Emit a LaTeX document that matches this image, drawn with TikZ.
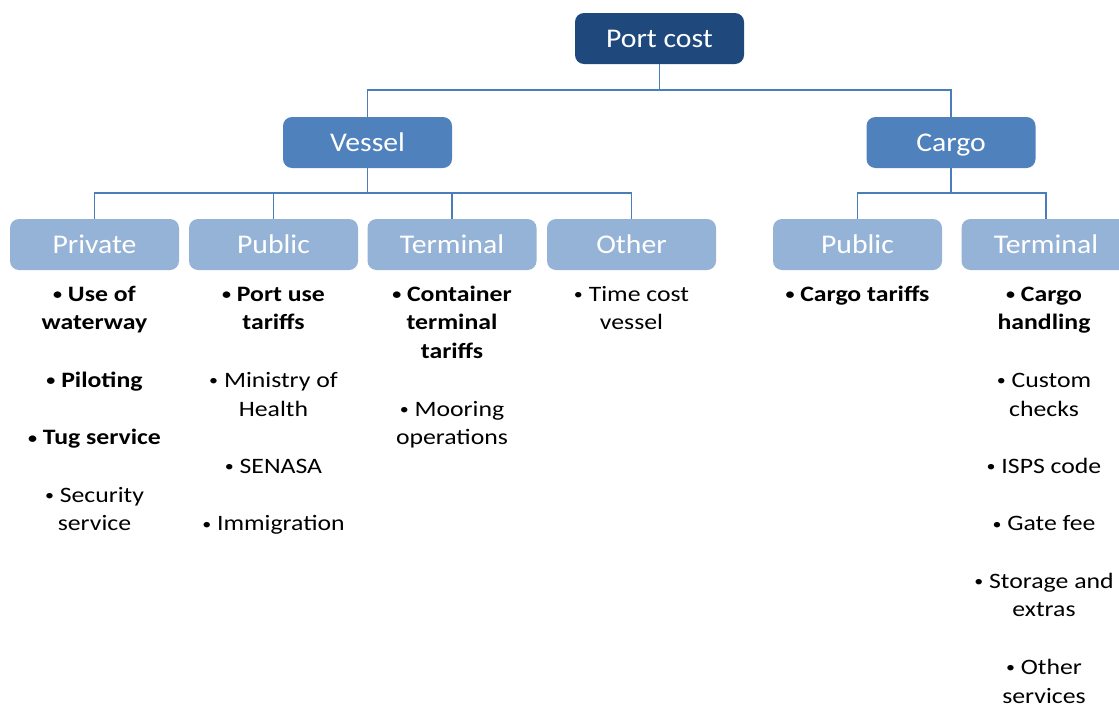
\documentclass[tikz,border=0pt]{standalone}
\usepackage{fontspec}
\setmainfont{Carlito}
\newfontfamily\itemfont[FakeStretch=1.17]{Carlito}
\newfontfamily\titlefont[FakeStretch=1.1]{Carlito}
\newcommand{\bul}{\rule{0pt}{18pt}\raisebox{1.5pt}{\scalebox{0.7}{•}}}
\definecolor{cDark}{HTML}{1F497D}
\definecolor{cMid}{HTML}{4F81BD}
\definecolor{cLight}{HTML}{95B3D7}
\definecolor{cLine}{HTML}{4A7EBB}
\begin{document}
\begin{tikzpicture}[x=1pt,y=-1pt,
  box/.style={rounded corners=9pt, minimum width=169pt, minimum height=51pt, inner sep=0pt,
    text height=21pt, text depth=4pt,
    text=white, font=\titlefont\fontsize{27}{30}\selectfont},
  lvA/.style={box, fill=cDark},
  lvB/.style={box, fill=cMid},
  lvC/.style={box, fill=cLight},
  conn/.style={draw=cLine, line width=1.3pt},
  item/.style={anchor=north, inner sep=0pt, align=center, text=black,
    font=\itemfont\fontsize{22}{28.7}\selectfont},
  bitem/.style={item, font=\itemfont\fontsize{22}{28.7}\selectfont\bfseries}]
\clip (0,0) rectangle (1119,707);
\fill[white] (0,0) rectangle (1119,707);
% boxes
\node[lvA] (port) at (659.5,38.5) {Port cost};
\node[lvB] (vessel) at (367.5,142.5) {Vessel};
\node[lvB] (cargo) at (951,142.5) {Cargo};
\node[lvC] (priv) at (94.5,244.5) {Private};
\node[lvC] (pub) at (273.5,244.5) {Public};
\node[lvC] (term) at (452,244.5) {Terminal};
\node[lvC] (oth) at (631.5,244.5) {Other};
\node[lvC] (cpub) at (857.5,244.5) {Public};
\node[lvC] (cterm) at (1046,244.5) {Terminal};
% connectors
\coordinate (j0) at (659.5,90);
\coordinate (j1) at (367.5,193);
\coordinate (j2) at (951,193);
\draw[conn] (port.south) -- (j0) -| (vessel.north);
\draw[conn] (j0) -| (cargo.north);
\draw[conn] (vessel.south) -- (j1) -| (priv.north);
\draw[conn] (j1) -| (pub.north);
\draw[conn] (j1) -| (term.north);
\draw[conn] (j1) -| (oth.north);
\draw[conn] (cargo.south) -- (j2) -| (cpub.north);
\draw[conn] (j2) -| (cterm.north);
% Private
\node[bitem] (p1) at (94.5,283) {\bul{} Use of\\waterway};
\node[bitem] (p2) at (94.5,369.1) {\bul{} Piloting};
\node[bitem] (p3) at (94.5,426.5) {\bul{} Tug service};
\node[item] (p4) at (94.5,483.9) {\bul{} Security\\service};
% Public
\node[bitem] (u1) at (273.5,283) {\bul{} Port use\\tariffs};
\node[item] (u2) at (273.5,369.1) {\bul{} Ministry of\\Health};
\node[item] (u3) at (273.5,455.2) {\bul{} SENASA};
\node[item] (u4) at (273.5,512.6) {\bul{} Immigration};
% Terminal
\node[bitem] (t1) at (452,283) {\bul{} Container\\terminal\\tariffs};
\node[item] (t2) at (452,397.8) {\bul{} Mooring\\operations};
% Other
\node[item] (o1) at (631.5,283) {\bul{} Time cost\\vessel};
% Cargo public
\node[bitem] (c1) at (857.5,283) {\bul{} Cargo tariffs};
% Cargo terminal
\node[bitem] (k1) at (1044,283) {\bul{} Cargo\\handling};
\node[item] (k2) at (1044,369.1) {\bul{} Custom\\checks};
\node[item] (k3) at (1044,455.2) {\bul{} ISPS code};
\node[item] (k4) at (1044,512.6) {\bul{} Gate fee};
\node[item] (k5) at (1044,570) {\bul{} Storage and\\extras};
\node[item] (k6) at (1044,656.1) {\bul{} Other\\services};
\end{tikzpicture}
\end{document}
